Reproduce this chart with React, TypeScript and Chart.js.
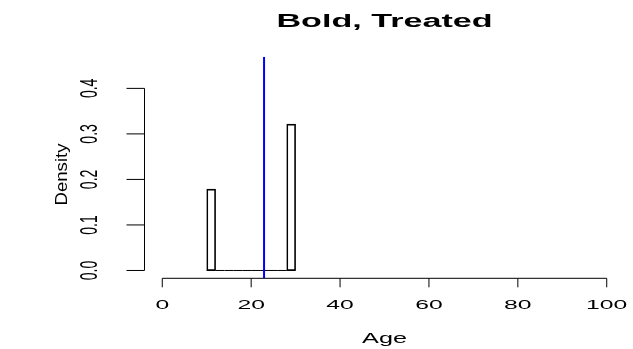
import { useEffect, useRef } from "react";
import { Chart, registerables } from "chart.js";

Chart.register(...registerables);

// Histogram of ages (density scale), 2-year bins
const binStarts = [10, 12, 14, 16, 18, 20, 22, 24, 26, 28];
const binWidth = 2;
const densities = [0.1786, 0, 0, 0, 0, 0, 0, 0, 0, 0.3214];
const meanAge = 22.9;

const xTicks = [0, 20, 40, 60, 80, 100];
const xTickLabels = ["0", "20", "40", "60", "80", "100"];
const yTicks = [0, 0.1, 0.2, 0.3, 0.4];
const yTickLabels = ["0.0", "0.1", "0.2", "0.3", "0.4"];

const chartTitle = "Bold, Treated";
const xTitle = "Age";
const yTitle = "Density";

const xMin = -4;
const xMax = 104;
const yMin = -0.0172;
const yMax = 0.4696;

const FONT = '"Liberation Sans", Arial, Helvetica, sans-serif';

// Text stretched horizontally in screen space (also for rotated labels)
function drawText(
  ctx: CanvasRenderingContext2D,
  text: string,
  x: number,
  y: number,
  font: string,
  sx: number,
  rotate = 0,
  sAlong = 1
) {
  ctx.save();
  ctx.translate(x, y);
  ctx.scale(sx, 1);
  if (rotate) ctx.rotate(rotate);
  ctx.scale(sAlong, 1);
  ctx.font = font;
  ctx.textAlign = "center";
  ctx.textBaseline = "alphabetic";
  ctx.fillStyle = "#000";
  ctx.fillText(text, 0, 0);
  ctx.restore();
}

// R-style axes, tick labels and titles
const baseAxesPlugin = {
  id: "baseAxes",
  afterDraw(chart: any) {
    const ctx: CanvasRenderingContext2D = chart.ctx;
    const xs = chart.scales.x;
    const ys = chart.scales.y;
    const area = chart.chartArea;
    ctx.save();
    ctx.strokeStyle = "#000";
    ctx.lineWidth = 1;

    // x axis
    const xa = area.bottom;
    ctx.beginPath();
    ctx.moveTo(xs.getPixelForValue(xTicks[0]), xa);
    ctx.lineTo(xs.getPixelForValue(xTicks[xTicks.length - 1]), xa);
    xTicks.forEach((t) => {
      const px = xs.getPixelForValue(t);
      ctx.moveTo(px, xa);
      ctx.lineTo(px, xa + 9);
    });
    ctx.stroke();
    xTicks.forEach((t, i) => {
      drawText(ctx, xTickLabels[i], xs.getPixelForValue(t), xa + 30.5, `13px ${FONT}`, 1.9);
    });

    // y axis
    const ya = area.left;
    ctx.beginPath();
    ctx.moveTo(ya, ys.getPixelForValue(yTicks[0]));
    ctx.lineTo(ya, ys.getPixelForValue(yTicks[yTicks.length - 1]));
    yTicks.forEach((t) => {
      const py = ys.getPixelForValue(t);
      ctx.moveTo(ya, py);
      ctx.lineTo(ya - 18, py);
    });
    ctx.stroke();
    yTicks.forEach((t, i) => {
      drawText(ctx, yTickLabels[i], ya - 48, ys.getPixelForValue(t), `14px ${FONT}`, 1.65, -Math.PI / 2);
    });

    // titles
    const cx = (area.left + area.right) / 2;
    drawText(ctx, chartTitle, cx, 26.5, `bold 17.5px ${FONT}`, 1.95);
    drawText(ctx, xTitle, cx, area.bottom + 64.5, `14px ${FONT}`, 1.8);
    drawText(ctx, yTitle, 67, (area.top + area.bottom) / 2 + 7, `14px ${FONT}`, 1.2, -Math.PI / 2, 1.33);
    ctx.restore();
  },
};

export default function App() {
  const canvasRef = useRef<HTMLCanvasElement | null>(null);

  useEffect(() => {
    const canvas = canvasRef.current;
    if (!canvas) return;
    const edges = [...binStarts, binStarts[binStarts.length - 1] + binWidth];
    const chart = new Chart(canvas, {
      type: "bar",
      data: {
        datasets: [
          {
            type: "line",
            label: "mean",
            data: [
              { x: meanAge, y: yMin },
              { x: meanAge, y: yMax },
            ],
            borderColor: "#0000ff",
            borderWidth: 2,
            pointRadius: 0,
            order: 0,
          } as any,
          {
            // bottom edges of all bins (empty bins show as a flat line)
            type: "line",
            label: "bin base",
            data: edges.map((e) => ({ x: e, y: 0 })),
            borderColor: "#000",
            borderWidth: 1,
            pointRadius: 0,
            order: 1,
          } as any,
          {
            type: "bar",
            label: "density",
            data: binStarts.map((s, i) => ({ x: s + binWidth / 2, y: densities[i] })),
            backgroundColor: "rgba(0,0,0,0)",
            borderColor: "#000",
            borderWidth: 1,
            borderSkipped: false,
            barPercentage: 1,
            categoryPercentage: 1,
            order: 2,
          } as any,
        ],
      },
      options: {
        animation: false,
        responsive: false,
        devicePixelRatio: 1,
        events: [],
        layout: { padding: { left: 144.5, right: 8.5, top: 56.7, bottom: 70.7 } },
        plugins: {
          legend: { display: false },
          tooltip: { enabled: false },
          title: { display: false },
        },
        scales: {
          x: { type: "linear", min: xMin, max: xMax, offset: false, display: false },
          y: { type: "linear", min: yMin, max: yMax, display: false },
        },
      },
      plugins: [baseAxesPlugin],
    });
    return () => chart.destroy();
  }, []);

  return (
    <div style={{ position: "absolute", left: 0, top: 0, width: 633, height: 349, background: "#fff" }}>
      <canvas ref={canvasRef} width={633} height={349} />
    </div>
  );
}
